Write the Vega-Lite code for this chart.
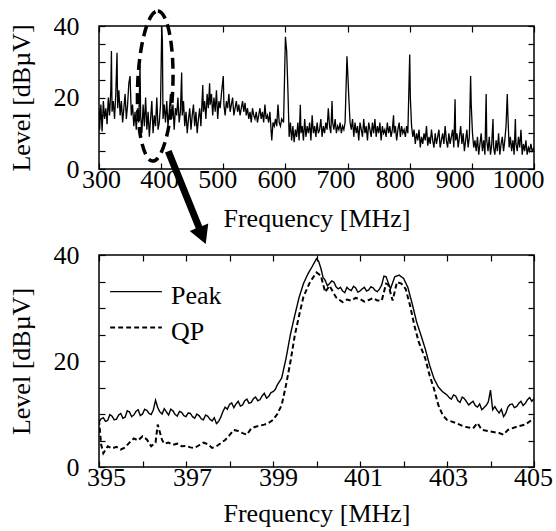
{
  "$schema": "https://vega.github.io/schema/vega-lite/v6.json",
  "padding": {"left": 7, "top": 3, "right": 0, "bottom": 0},
  "background": "white",
  "config": {
    "font": "Liberation Serif",
    "view": {"stroke": "black", "strokeWidth": 1.5},
    "axis": {
      "grid": false, "domain": false,
      "tickColor": "black", "tickSize": -6, "tickWidth": 1.2,
      "labelColor": "black", "labelFontSize": 26, "labelFont": "Liberation Serif",
      "titleFont": "Liberation Serif", "titleFontSize": 26, "titleFontWeight": "normal", "titleColor": "black",
      "labelFlush": false, "labelOverlap": false, "format": "d"
    }
  },
  "datasets": {
    "top": [
      {"f":300,"v":17},{"f":301,"v":11},{"f":303,"v":18},{"f":305,"v":10.5},{"f":307,"v":19},{"f":309,"v":14},{"f":311,"v":17},{"f":313,"v":12.5},{"f":315,"v":20},{"f":317,"v":15},{"f":319,"v":22},{"f":320,"v":33},{"f":321,"v":16},{"f":323,"v":19},{"f":325,"v":14},{"f":327,"v":21},{"f":329,"v":32.5},{"f":330,"v":17},{"f":332,"v":22},{"f":334,"v":15},{"f":336,"v":19},{"f":338,"v":13},{"f":340,"v":17},{"f":342,"v":21},{"f":344,"v":14},{"f":346,"v":18},{"f":348,"v":24},{"f":350,"v":26},{"f":352,"v":15},{"f":354,"v":18},{"f":356,"v":12},{"f":358,"v":16},{"f":360,"v":11},{"f":362,"v":17},{"f":364,"v":13},{"f":366,"v":29},{"f":367,"v":15},{"f":369,"v":10},{"f":371,"v":18},{"f":373,"v":12},{"f":375,"v":20},{"f":377,"v":11},{"f":379,"v":16},{"f":381,"v":9},{"f":383,"v":14},{"f":385,"v":19},{"f":387,"v":10},{"f":389,"v":15},{"f":391,"v":12},{"f":393,"v":20},{"f":395,"v":11},{"f":397,"v":13},{"f":399,"v":18},{"f":401,"v":40},{"f":402,"v":36},{"f":403,"v":14},{"f":405,"v":18},{"f":407,"v":13},{"f":409,"v":19},{"f":411,"v":12},{"f":413,"v":16},{"f":415,"v":21},{"f":417,"v":14},{"f":419,"v":18},{"f":421,"v":11},{"f":423,"v":17},{"f":425,"v":15},{"f":427,"v":20},{"f":429,"v":13},{"f":431,"v":16},{"f":433,"v":27},{"f":434,"v":15},{"f":436,"v":19},{"f":438,"v":12},{"f":440,"v":16},{"f":442,"v":10},{"f":444,"v":14},{"f":446,"v":17},{"f":448,"v":11},{"f":450,"v":15},{"f":452,"v":18},{"f":454,"v":12},{"f":456,"v":16},{"f":458,"v":10},{"f":460,"v":14},{"f":462,"v":17},{"f":464,"v":12},{"f":467,"v":23.5},{"f":468,"v":16},{"f":470,"v":19},{"f":472,"v":14},{"f":474,"v":21},{"f":476,"v":17},{"f":478,"v":24},{"f":479,"v":18},{"f":481,"v":21},{"f":483,"v":15},{"f":485,"v":20},{"f":487,"v":16},{"f":489,"v":22},{"f":491,"v":14},{"f":493,"v":19},{"f":495,"v":17},{"f":497,"v":21},{"f":500,"v":26},{"f":501,"v":18},{"f":503,"v":15},{"f":505,"v":19},{"f":507,"v":17},{"f":509,"v":21},{"f":511,"v":16},{"f":513,"v":18},{"f":515,"v":20},{"f":517,"v":15},{"f":519,"v":17},{"f":521,"v":19},{"f":523,"v":16},{"f":525,"v":18},{"f":527,"v":15},{"f":529,"v":17},{"f":531,"v":19},{"f":533,"v":16},{"f":535,"v":18.5},{"f":537,"v":15},{"f":539,"v":17},{"f":541,"v":14},{"f":543,"v":16},{"f":545,"v":13},{"f":547,"v":17},{"f":549,"v":15},{"f":551,"v":14},{"f":553,"v":16},{"f":555,"v":13},{"f":557,"v":15},{"f":559,"v":17},{"f":561,"v":14},{"f":563,"v":16},{"f":565,"v":13},{"f":567,"v":18},{"f":569,"v":14},{"f":571,"v":15},{"f":573,"v":13},{"f":575,"v":16},{"f":578,"v":8},{"f":580,"v":13},{"f":582,"v":12},{"f":584,"v":14},{"f":586,"v":12},{"f":588,"v":18},{"f":590,"v":13},{"f":592,"v":12},{"f":594,"v":14},{"f":597,"v":13},{"f":600,"v":37},{"f":602,"v":33},{"f":604,"v":22},{"f":606,"v":9},{"f":608,"v":13},{"f":610,"v":8},{"f":612,"v":12},{"f":614,"v":7.5},{"f":616,"v":11},{"f":618,"v":9},{"f":620,"v":13},{"f":622,"v":8},{"f":624,"v":18},{"f":625,"v":10},{"f":627,"v":12},{"f":629,"v":8},{"f":631,"v":14},{"f":633,"v":9},{"f":635,"v":12},{"f":637,"v":10},{"f":639,"v":13},{"f":641,"v":8},{"f":643,"v":15},{"f":645,"v":10},{"f":647,"v":12},{"f":649,"v":9},{"f":651,"v":13},{"f":653,"v":10},{"f":655,"v":11},{"f":657,"v":14},{"f":659,"v":9},{"f":661,"v":12},{"f":663,"v":10},{"f":665,"v":13},{"f":667,"v":11},{"f":669,"v":17},{"f":671,"v":12},{"f":673,"v":10},{"f":675,"v":19},{"f":676,"v":13},{"f":678,"v":11},{"f":680,"v":14},{"f":682,"v":10},{"f":684,"v":12},{"f":686,"v":11},{"f":688,"v":13},{"f":690,"v":10},{"f":692,"v":12},{"f":694,"v":11},{"f":696,"v":13},{"f":699,"v":31.5},{"f":700,"v":28},{"f":702,"v":20},{"f":704,"v":13},{"f":706,"v":11},{"f":708,"v":14},{"f":710,"v":9},{"f":712,"v":13},{"f":714,"v":10},{"f":716,"v":12},{"f":718,"v":8},{"f":720,"v":13},{"f":722,"v":11},{"f":724,"v":9},{"f":726,"v":14},{"f":728,"v":10},{"f":730,"v":12},{"f":732,"v":8},{"f":734,"v":13},{"f":736,"v":11},{"f":738,"v":9},{"f":740,"v":13},{"f":742,"v":10},{"f":744,"v":14},{"f":746,"v":9},{"f":748,"v":12},{"f":750,"v":10},{"f":752,"v":13},{"f":754,"v":8},{"f":756,"v":12},{"f":758,"v":10},{"f":760,"v":11},{"f":762,"v":9},{"f":764,"v":13},{"f":766,"v":10},{"f":768,"v":12},{"f":770,"v":9},{"f":772,"v":11},{"f":774,"v":15},{"f":775,"v":10},{"f":777,"v":12},{"f":779,"v":8},{"f":781,"v":11},{"f":783,"v":13},{"f":785,"v":9},{"f":787,"v":12},{"f":789,"v":10},{"f":791,"v":11},{"f":793,"v":9},{"f":795,"v":12},{"f":797,"v":10},{"f":800,"v":32},{"f":801,"v":20},{"f":803,"v":12},{"f":805,"v":9},{"f":807,"v":11},{"f":809,"v":7},{"f":811,"v":10},{"f":813,"v":8},{"f":815,"v":11},{"f":817,"v":6},{"f":819,"v":9},{"f":821,"v":7},{"f":823,"v":10},{"f":825,"v":8},{"f":827,"v":12},{"f":829,"v":6.5},{"f":831,"v":9},{"f":833,"v":7},{"f":835,"v":11},{"f":837,"v":8},{"f":839,"v":6},{"f":841,"v":10},{"f":843,"v":7},{"f":845,"v":9},{"f":847,"v":11},{"f":849,"v":6},{"f":851,"v":8},{"f":853,"v":10},{"f":855,"v":7},{"f":857,"v":12},{"f":859,"v":8},{"f":861,"v":6},{"f":863,"v":10},{"f":865,"v":7},{"f":867,"v":9},{"f":869,"v":11},{"f":871,"v":6},{"f":873,"v":19.5},{"f":874,"v":8},{"f":876,"v":10},{"f":878,"v":6},{"f":880,"v":9},{"f":882,"v":12},{"f":884,"v":7},{"f":886,"v":10},{"f":888,"v":5},{"f":890,"v":8},{"f":892,"v":11},{"f":894,"v":6},{"f":896,"v":9},{"f":898,"v":26},{"f":899,"v":18},{"f":901,"v":10},{"f":903,"v":6},{"f":905,"v":8},{"f":907,"v":5},{"f":909,"v":9},{"f":911,"v":4},{"f":913,"v":7},{"f":915,"v":10},{"f":917,"v":5},{"f":919,"v":8},{"f":921,"v":4},{"f":923,"v":21},{"f":924,"v":8},{"f":926,"v":5},{"f":928,"v":9},{"f":930,"v":4},{"f":932,"v":7},{"f":934,"v":14},{"f":935,"v":6},{"f":937,"v":4},{"f":939,"v":8},{"f":941,"v":5},{"f":943,"v":10},{"f":945,"v":4},{"f":947,"v":7},{"f":949,"v":9},{"f":951,"v":5},{"f":953,"v":8},{"f":955,"v":12},{"f":957,"v":21},{"f":958,"v":15},{"f":960,"v":6},{"f":962,"v":9},{"f":964,"v":5},{"f":966,"v":8},{"f":968,"v":4},{"f":970,"v":14},{"f":971,"v":7},{"f":973,"v":5},{"f":975,"v":9},{"f":977,"v":6},{"f":979,"v":11},{"f":981,"v":4},{"f":983,"v":7},{"f":985,"v":5},{"f":987,"v":8},{"f":989,"v":4},{"f":991,"v":6},{"f":993,"v":5},{"f":995,"v":7},{"f":997,"v":5},{"f":1000,"v":6}
    ],
    "zoom": [
      {"f":395.0,"v":8.5,"s":"Peak"},{"f":395.1,"v":9.3,"s":"Peak"},{"f":395.2,"v":8.8,"s":"Peak"},{"f":395.3,"v":9.6,"s":"Peak"},{"f":395.4,"v":9.0,"s":"Peak"},{"f":395.5,"v":10.1,"s":"Peak"},{"f":395.6,"v":9.4,"s":"Peak"},{"f":395.7,"v":10.4,"s":"Peak"},{"f":395.8,"v":9.8,"s":"Peak"},{"f":395.9,"v":10.8,"s":"Peak"},{"f":396.0,"v":10.0,"s":"Peak"},{"f":396.1,"v":10.7,"s":"Peak"},{"f":396.2,"v":9.9,"s":"Peak"},{"f":396.3,"v":12.6,"s":"Peak"},{"f":396.4,"v":10.4,"s":"Peak"},{"f":396.5,"v":11.0,"s":"Peak"},{"f":396.6,"v":9.8,"s":"Peak"},{"f":396.7,"v":10.6,"s":"Peak"},{"f":396.8,"v":9.6,"s":"Peak"},{"f":396.9,"v":10.3,"s":"Peak"},{"f":397.0,"v":9.5,"s":"Peak"},{"f":397.1,"v":10.1,"s":"Peak"},{"f":397.2,"v":9.2,"s":"Peak"},{"f":397.3,"v":9.7,"s":"Peak"},{"f":397.4,"v":8.9,"s":"Peak"},{"f":397.5,"v":9.6,"s":"Peak"},{"f":397.6,"v":8.7,"s":"Peak"},{"f":397.7,"v":8.2,"s":"Peak"},{"f":397.8,"v":9.4,"s":"Peak"},{"f":397.9,"v":11.3,"s":"Peak"},{"f":398.0,"v":11.8,"s":"Peak"},{"f":398.1,"v":11.2,"s":"Peak"},{"f":398.2,"v":12.4,"s":"Peak"},{"f":398.3,"v":11.7,"s":"Peak"},{"f":398.4,"v":12.8,"s":"Peak"},{"f":398.5,"v":12.2,"s":"Peak"},{"f":398.6,"v":13.2,"s":"Peak"},{"f":398.7,"v":12.7,"s":"Peak"},{"f":398.8,"v":13.9,"s":"Peak"},{"f":398.9,"v":13.3,"s":"Peak"},{"f":399.0,"v":14.2,"s":"Peak"},{"f":399.1,"v":15.5,"s":"Peak"},{"f":399.2,"v":16.8,"s":"Peak"},{"f":399.3,"v":20.5,"s":"Peak"},{"f":399.4,"v":25.0,"s":"Peak"},{"f":399.5,"v":28.6,"s":"Peak"},{"f":399.6,"v":32.0,"s":"Peak"},{"f":399.7,"v":34.6,"s":"Peak"},{"f":399.8,"v":36.4,"s":"Peak"},{"f":399.9,"v":37.8,"s":"Peak"},{"f":400.0,"v":39.3,"s":"Peak"},{"f":400.05,"v":38.8,"s":"Peak"},{"f":400.1,"v":37.5,"s":"Peak"},{"f":400.15,"v":35.8,"s":"Peak"},{"f":400.2,"v":35.2,"s":"Peak"},{"f":400.3,"v":34.6,"s":"Peak"},{"f":400.4,"v":34.9,"s":"Peak"},{"f":400.5,"v":33.6,"s":"Peak"},{"f":400.6,"v":33.2,"s":"Peak"},{"f":400.7,"v":33.9,"s":"Peak"},{"f":400.8,"v":33.3,"s":"Peak"},{"f":400.9,"v":33.8,"s":"Peak"},{"f":401.0,"v":33.2,"s":"Peak"},{"f":401.1,"v":33.9,"s":"Peak"},{"f":401.2,"v":33.4,"s":"Peak"},{"f":401.3,"v":33.8,"s":"Peak"},{"f":401.4,"v":33.1,"s":"Peak"},{"f":401.5,"v":34.4,"s":"Peak"},{"f":401.55,"v":36.0,"s":"Peak"},{"f":401.6,"v":35.9,"s":"Peak"},{"f":401.7,"v":33.6,"s":"Peak"},{"f":401.8,"v":35.9,"s":"Peak"},{"f":401.9,"v":36.2,"s":"Peak"},{"f":402.0,"v":35.6,"s":"Peak"},{"f":402.1,"v":33.9,"s":"Peak"},{"f":402.2,"v":30.8,"s":"Peak"},{"f":402.3,"v":27.4,"s":"Peak"},{"f":402.4,"v":24.9,"s":"Peak"},{"f":402.5,"v":22.3,"s":"Peak"},{"f":402.6,"v":19.2,"s":"Peak"},{"f":402.7,"v":16.7,"s":"Peak"},{"f":402.8,"v":15.1,"s":"Peak"},{"f":402.9,"v":14.2,"s":"Peak"},{"f":403.0,"v":13.6,"s":"Peak"},{"f":403.1,"v":12.8,"s":"Peak"},{"f":403.2,"v":13.4,"s":"Peak"},{"f":403.3,"v":12.2,"s":"Peak"},{"f":403.4,"v":12.9,"s":"Peak"},{"f":403.5,"v":11.7,"s":"Peak"},{"f":403.6,"v":12.4,"s":"Peak"},{"f":403.7,"v":11.3,"s":"Peak"},{"f":403.8,"v":10.8,"s":"Peak"},{"f":403.9,"v":11.6,"s":"Peak"},{"f":404.0,"v":14.5,"s":"Peak"},{"f":404.05,"v":10.8,"s":"Peak"},{"f":404.1,"v":11.4,"s":"Peak"},{"f":404.2,"v":10.2,"s":"Peak"},{"f":404.3,"v":9.5,"s":"Peak"},{"f":404.4,"v":11.3,"s":"Peak"},{"f":404.5,"v":11.9,"s":"Peak"},{"f":404.6,"v":11.4,"s":"Peak"},{"f":404.7,"v":12.4,"s":"Peak"},{"f":404.8,"v":12.0,"s":"Peak"},{"f":404.9,"v":13.1,"s":"Peak"},{"f":405.0,"v":12.9,"s":"Peak"},
      {"f":395.05,"v":9.1,"s":"Peak"},{"f":395.15,"v":8.6,"s":"Peak"},{"f":395.25,"v":9.9,"s":"Peak"},{"f":395.35,"v":8.9,"s":"Peak"},{"f":395.45,"v":9.8,"s":"Peak"},{"f":395.55,"v":9.2,"s":"Peak"},{"f":395.65,"v":10.6,"s":"Peak"},{"f":395.75,"v":9.5,"s":"Peak"},{"f":395.85,"v":10.5,"s":"Peak"},{"f":395.95,"v":9.7,"s":"Peak"},{"f":396.05,"v":10.9,"s":"Peak"},{"f":396.15,"v":10.1,"s":"Peak"},{"f":396.25,"v":10.8,"s":"Peak"},{"f":396.35,"v":11.2,"s":"Peak"},{"f":396.45,"v":10.0,"s":"Peak"},{"f":396.55,"v":10.4,"s":"Peak"},{"f":396.65,"v":10.9,"s":"Peak"},{"f":396.75,"v":9.9,"s":"Peak"},{"f":396.85,"v":10.5,"s":"Peak"},{"f":396.95,"v":9.7,"s":"Peak"},{"f":397.05,"v":10.2,"s":"Peak"},{"f":397.15,"v":9.5,"s":"Peak"},{"f":397.25,"v":10.0,"s":"Peak"},{"f":397.35,"v":9.1,"s":"Peak"},{"f":397.45,"v":9.8,"s":"Peak"},{"f":397.55,"v":9.0,"s":"Peak"},{"f":397.65,"v":9.3,"s":"Peak"},{"f":397.75,"v":8.6,"s":"Peak"},{"f":397.85,"v":10.5,"s":"Peak"},{"f":397.95,"v":10.9,"s":"Peak"},{"f":398.05,"v":12.1,"s":"Peak"},{"f":398.15,"v":11.9,"s":"Peak"},{"f":398.25,"v":11.5,"s":"Peak"},{"f":398.35,"v":12.5,"s":"Peak"},{"f":398.45,"v":12.0,"s":"Peak"},{"f":398.55,"v":12.9,"s":"Peak"},{"f":398.65,"v":12.5,"s":"Peak"},{"f":398.75,"v":13.4,"s":"Peak"},{"f":398.85,"v":13.0,"s":"Peak"},{"f":398.95,"v":14.0,"s":"Peak"},{"f":399.05,"v":14.6,"s":"Peak"},
      {"f":400.25,"v":34.2,"s":"Peak"},{"f":400.35,"v":35.1,"s":"Peak"},{"f":400.45,"v":34.0,"s":"Peak"},{"f":400.55,"v":33.9,"s":"Peak"},{"f":400.65,"v":32.9,"s":"Peak"},{"f":400.75,"v":33.5,"s":"Peak"},{"f":400.85,"v":34.1,"s":"Peak"},{"f":400.95,"v":33.0,"s":"Peak"},{"f":401.05,"v":33.6,"s":"Peak"},{"f":401.15,"v":33.2,"s":"Peak"},{"f":401.25,"v":34.0,"s":"Peak"},{"f":401.35,"v":33.3,"s":"Peak"},{"f":401.45,"v":33.6,"s":"Peak"},
      {"f":403.05,"v":13.1,"s":"Peak"},{"f":403.15,"v":13.6,"s":"Peak"},{"f":403.25,"v":12.5,"s":"Peak"},{"f":403.35,"v":13.2,"s":"Peak"},{"f":403.45,"v":12.3,"s":"Peak"},{"f":403.55,"v":12.1,"s":"Peak"},{"f":403.65,"v":11.6,"s":"Peak"},{"f":403.75,"v":11.9,"s":"Peak"},{"f":403.85,"v":11.2,"s":"Peak"},{"f":403.95,"v":12.3,"s":"Peak"},{"f":404.15,"v":10.7,"s":"Peak"},{"f":404.25,"v":10.9,"s":"Peak"},{"f":404.35,"v":10.1,"s":"Peak"},{"f":404.45,"v":11.8,"s":"Peak"},{"f":404.55,"v":11.2,"s":"Peak"},{"f":404.65,"v":12.0,"s":"Peak"},{"f":404.75,"v":11.6,"s":"Peak"},{"f":404.85,"v":12.7,"s":"Peak"},{"f":404.95,"v":12.4,"s":"Peak"},
      {"f":395.0,"v":8.9,"s":"QP"},{"f":395.05,"v":4.2,"s":"QP"},{"f":395.1,"v":2.6,"s":"QP"},{"f":395.2,"v":3.9,"s":"QP"},{"f":395.3,"v":3.5,"s":"QP"},{"f":395.4,"v":3.8,"s":"QP"},{"f":395.5,"v":3.3,"s":"QP"},{"f":395.6,"v":3.7,"s":"QP"},{"f":395.7,"v":4.6,"s":"QP"},{"f":395.8,"v":5.4,"s":"QP"},{"f":395.9,"v":5.0,"s":"QP"},{"f":396.0,"v":5.8,"s":"QP"},{"f":396.1,"v":5.2,"s":"QP"},{"f":396.2,"v":3.9,"s":"QP"},{"f":396.3,"v":4.6,"s":"QP"},{"f":396.35,"v":8.0,"s":"QP"},{"f":396.45,"v":5.1,"s":"QP"},{"f":396.5,"v":4.4,"s":"QP"},{"f":396.6,"v":4.6,"s":"QP"},{"f":396.7,"v":4.2,"s":"QP"},{"f":396.8,"v":4.4,"s":"QP"},{"f":396.9,"v":3.9,"s":"QP"},{"f":397.0,"v":4.0,"s":"QP"},{"f":397.1,"v":3.7,"s":"QP"},{"f":397.2,"v":3.6,"s":"QP"},{"f":397.3,"v":4.1,"s":"QP"},{"f":397.4,"v":4.6,"s":"QP"},{"f":397.5,"v":4.3,"s":"QP"},{"f":397.6,"v":3.6,"s":"QP"},{"f":397.7,"v":3.9,"s":"QP"},{"f":397.8,"v":4.5,"s":"QP"},{"f":397.9,"v":5.1,"s":"QP"},{"f":398.0,"v":6.0,"s":"QP"},{"f":398.1,"v":7.0,"s":"QP"},{"f":398.2,"v":6.8,"s":"QP"},{"f":398.3,"v":6.4,"s":"QP"},{"f":398.4,"v":6.1,"s":"QP"},{"f":398.5,"v":7.3,"s":"QP"},{"f":398.6,"v":7.6,"s":"QP"},{"f":398.7,"v":7.8,"s":"QP"},{"f":398.8,"v":8.0,"s":"QP"},{"f":398.9,"v":8.3,"s":"QP"},{"f":399.0,"v":8.9,"s":"QP"},{"f":399.1,"v":10.0,"s":"QP"},{"f":399.2,"v":11.7,"s":"QP"},{"f":399.3,"v":15.5,"s":"QP"},{"f":399.4,"v":19.8,"s":"QP"},{"f":399.5,"v":24.8,"s":"QP"},{"f":399.6,"v":28.6,"s":"QP"},{"f":399.7,"v":32.1,"s":"QP"},{"f":399.85,"v":34.9,"s":"QP"},{"f":400.0,"v":36.7,"s":"QP"},{"f":400.1,"v":36.1,"s":"QP"},{"f":400.2,"v":33.0,"s":"QP"},{"f":400.3,"v":34.2,"s":"QP"},{"f":400.45,"v":32.0,"s":"QP"},{"f":400.6,"v":31.1,"s":"QP"},{"f":400.7,"v":31.6,"s":"QP"},{"f":400.8,"v":31.4,"s":"QP"},{"f":400.9,"v":31.9,"s":"QP"},{"f":401.0,"v":31.7,"s":"QP"},{"f":401.1,"v":31.2,"s":"QP"},{"f":401.2,"v":31.5,"s":"QP"},{"f":401.3,"v":31.9,"s":"QP"},{"f":401.4,"v":31.4,"s":"QP"},{"f":401.5,"v":31.4,"s":"QP"},{"f":401.6,"v":34.6,"s":"QP"},{"f":401.65,"v":34.4,"s":"QP"},{"f":401.75,"v":31.4,"s":"QP"},{"f":401.85,"v":34.9,"s":"QP"},{"f":401.95,"v":34.6,"s":"QP"},{"f":402.05,"v":33.6,"s":"QP"},{"f":402.15,"v":30.5,"s":"QP"},{"f":402.25,"v":26.7,"s":"QP"},{"f":402.35,"v":23.6,"s":"QP"},{"f":402.5,"v":20.5,"s":"QP"},{"f":402.6,"v":17.3,"s":"QP"},{"f":402.7,"v":14.8,"s":"QP"},{"f":402.8,"v":11.7,"s":"QP"},{"f":402.9,"v":9.8,"s":"QP"},{"f":403.0,"v":8.9,"s":"QP"},{"f":403.2,"v":8.3,"s":"QP"},{"f":403.4,"v":7.6,"s":"QP"},{"f":403.6,"v":7.3,"s":"QP"},{"f":403.7,"v":8.3,"s":"QP"},{"f":403.8,"v":7.0,"s":"QP"},{"f":404.0,"v":6.7,"s":"QP"},{"f":404.2,"v":6.4,"s":"QP"},{"f":404.3,"v":6.1,"s":"QP"},{"f":404.4,"v":7.0,"s":"QP"},{"f":404.6,"v":7.6,"s":"QP"},{"f":404.8,"v":8.0,"s":"QP"},{"f":405.0,"v":9.2,"s":"QP"}
    ]
  },
  "vconcat": [
    {
      "width": 435, "height": 143,
      "layer": [
        {
          "data": {"name": "top"},
          "mark": {"type": "line", "color": "black", "strokeWidth": 1.3, "clip": true},
          "encoding": {
            "x": {"field": "f", "type": "quantitative", "scale": {"domain": [300, 1000], "nice": false, "zero": false},
                  "axis": {"orient": "bottom", "title": "Frequency [MHz]", "values": [300,400,500,600,700,800,900,1000], "labelPadding": 3, "titlePadding": 13,
                           "labelOffset": {"condition": [
                             {"test": "datum.value === 300", "value": 2},
                             {"test": "datum.value === 400", "value": -2},
                             {"test": "datum.value === 500", "value": -6},
                             {"test": "datum.value === 600", "value": -9},
                             {"test": "datum.value === 700", "value": -12},
                             {"test": "datum.value === 800", "value": -15},
                             {"test": "datum.value === 900", "value": -17}
                           ], "value": -16}}},
            "y": {"field": "v", "type": "quantitative", "scale": {"domain": [0, 40], "nice": false},
                  "axis": {"orient": "left", "title": "Level [dBµV]", "values": [0,5,10,15,20,25,30,35,40], "labelExpr": "datum.value % 20 === 0 ? datum.label : ''", "labelPadding": 26, "titlePadding": 19}}
          }
        },
        {
          "data": {"name": "top"},
          "mark": {"type": "point", "opacity": 0},
          "encoding": {
            "x": {"field": "f", "type": "quantitative", "axis": {"orient": "top", "title": null, "labels": false, "values": [300,400,500,600,700,800,900,1000]}},
            "y": {"field": "v", "type": "quantitative", "axis": {"orient": "right", "title": null, "labels": false, "values": [0,5,10,15,20,25,30,35,40]}}
          }
        },
        {
          "data": {"values": [{"note": "zoom region"}]},
          "mark": {"type": "point", "shape": "M0,-1 A0.235,1 0 1,1 0,1 A0.235,1 0 1,1 0,-1 Z", "size": 22500, "filled": false, "stroke": "black", "strokeWidth": 3.5, "strokeDash": [11, 6], "angle": 2, "opacity": 1},
          "encoding": {
            "x": {"datum": 390.5, "type": "quantitative", "axis": null},
            "y": {"datum": 23.2, "type": "quantitative", "axis": null}
          }
        },
        {
          "data": {"values": [{"note": "arrow"}]},
          "mark": {"type": "point", "shape": "M-0.07,-1 L0.07,-1 L0.07,0.64 L0.2,0.64 L0,1 L-0.2,0.64 L-0.07,0.64 Z", "size": 10000, "filled": true, "fill": "black", "strokeWidth": 0, "angle": 338, "opacity": 1},
          "encoding": {
            "x": {"datum": 441.6, "type": "quantitative", "axis": null},
            "y": {"datum": -8.0, "type": "quantitative", "axis": null}
          }
        }
      ],
      "resolve": {"axis": {"x": "independent", "y": "independent"}}
    },
    {
      "width": 435, "height": 212,
      "layer": [
        {
          "data": {"name": "zoom"},
          "mark": {"type": "line", "color": "black", "clip": true},
          "encoding": {
            "x": {"field": "f", "type": "quantitative", "scale": {"domain": [395, 405], "nice": false, "zero": false},
                  "axis": {"orient": "bottom", "title": "Frequency [MHz]", "values": [395,396,397,398,399,400,401,402,403,404,405], "labelExpr": "datum.value % 2 === 1 ? datum.label : ''", "labelPadding": 3, "titlePadding": 10,
                           "labelOffset": {"condition": [
                             {"test": "datum.value === 395", "value": 7},
                             {"test": "datum.value === 397", "value": 6},
                             {"test": "datum.value === 399", "value": 5},
                             {"test": "datum.value === 401", "value": 3},
                             {"test": "datum.value === 403", "value": 1}
                           ], "value": -1}}},
            "y": {"field": "v", "type": "quantitative", "scale": {"domain": [0, 40], "nice": false},
                  "axis": {"orient": "left", "title": "Level [dBµV]", "values": [0,5,10,15,20,25,30,35,40], "labelExpr": "datum.value % 20 === 0 ? datum.label : ''", "labelPadding": 26, "titlePadding": 19}},
            "strokeDash": {"field": "s", "type": "nominal", "scale": {"domain": ["Peak", "QP"], "range": [[1, 0], [5, 3]]},
                           "legend": {"title": null, "orient": "none", "legendX": 14, "legendY": 247, "padding": 0, "symbolType": "M-1.175,-0.2 L1.175,-0.2", "symbolSize": 1936, "symbolStrokeColor": "black", "symbolStrokeWidth": 2, "labelFontSize": 26, "labelFont": "Liberation Serif", "labelColor": "black", "labelOffset": 12, "rowPadding": 0}},
            "strokeWidth": {"field": "s", "type": "nominal", "scale": {"domain": ["Peak", "QP"], "range": [1.4, 2]}, "legend": null}
          }
        },
        {
          "data": {"name": "zoom"},
          "mark": {"type": "point", "opacity": 0},
          "encoding": {
            "x": {"field": "f", "type": "quantitative", "axis": {"orient": "top", "title": null, "labels": false, "values": [395,396,397,398,399,400,401,402,403,404,405]}},
            "y": {"field": "v", "type": "quantitative", "axis": {"orient": "right", "title": null, "labels": false, "values": [0,5,10,15,20,25,30,35,40]}}
          }
        }
      ],
      "resolve": {"axis": {"x": "independent", "y": "independent"}}
    }
  ],
  "spacing": 86,
  "bounds": "flush"
}
